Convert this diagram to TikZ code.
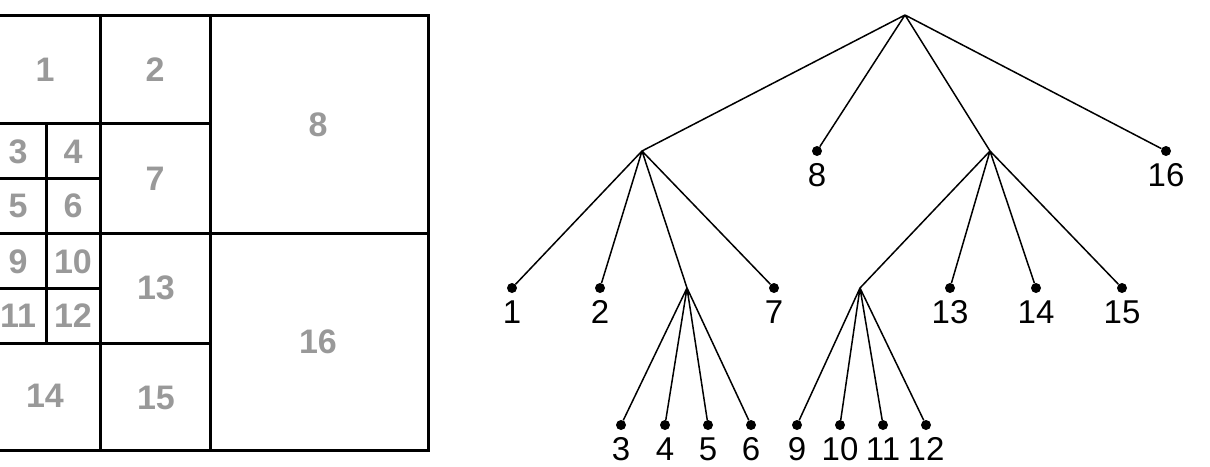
\documentclass[tikz,border=0pt]{standalone}
\usepackage{fontspec}
\setmainfont{Liberation Sans}
\begin{document}
\begin{tikzpicture}[x=1pt,y=-1pt,
  gl/.style={text=black!40,font=\fontsize{34}{36}\selectfont\bfseries},
  tl/.style={font=\fontsize{33}{35}\selectfont,anchor=base,inner sep=0pt},
  grid/.style={line width=3pt},
  edge/.style={line width=1.5pt},
  leaf/.style={circle,fill=black,inner sep=0pt,minimum size=10pt}]
\useasboundingbox (0,0) rectangle (1210,466);
\begin{scope}
\clip (0,0) rectangle (1210,466);
\draw[grid] (-10,15) rectangle (428,450);
\draw[grid] (100,15) -- (100,450) (210,15) -- (210,450)
  (-10,123) -- (210,123) (-10,233) -- (428,233) (-10,343) -- (210,343)
  (46,123) -- (46,343) (-10,178) -- (100,178) (-10,288) -- (100,288);
\node[gl] (g1) at (45,70) {1};
\node[gl] (g2) at (155,70) {2};
\node[gl] (g8) at (318,125) {8};
\node[gl] (g3) at (18,152) {3};
\node[gl] (g4) at (73,152) {4};
\node[gl] (g5) at (18,206) {5};
\node[gl] (g6) at (73,206) {6};
\node[gl] (g7) at (155,179) {7};
\node[gl] (g9) at (18,262) {9};
\node[gl] (g10) at (73,262) {10};
\node[gl] (g11) at (18,316) {11};
\node[gl] (g12) at (73,316) {12};
\node[gl] (g13) at (156,288) {13};
\node[gl] (g16) at (318,342) {16};
\node[gl] (g14) at (45,396) {14};
\node[gl] (g15) at (156,398) {15};
\end{scope}
\coordinate (r) at (905,15);
\coordinate (A) at (642,151);
\coordinate (B) at (990,151);
\coordinate (C) at (687,288);
\coordinate (D) at (860,288);
\foreach \n/\x/\y in {8/817/151,16/1166/151,1/512/288,2/600/288,7/774/288,
  13/950/288,14/1036/288,15/1122/288,3/621/425,4/665/425,5/708/425,6/751/425,
  9/797/425,10/840/425,11/883/425,12/926/425}{
  \node[leaf] (n\n) at (\x,\y) {};
  \node[tl] (l\n) at (\x,\y+35) {\n};
}
\draw[edge] (r) -- (A) (r) -- (n8) (r) -- (B) (r) -- (n16)
 (A) -- (n1) (A) -- (n2) (A) -- (C) (A) -- (n7)
 (C) -- (n3) (C) -- (n4) (C) -- (n5) (C) -- (n6)
 (B) -- (D) (B) -- (n13) (B) -- (n14) (B) -- (n15)
 (D) -- (n9) (D) -- (n10) (D) -- (n11) (D) -- (n12);
\end{tikzpicture}
\end{document}
